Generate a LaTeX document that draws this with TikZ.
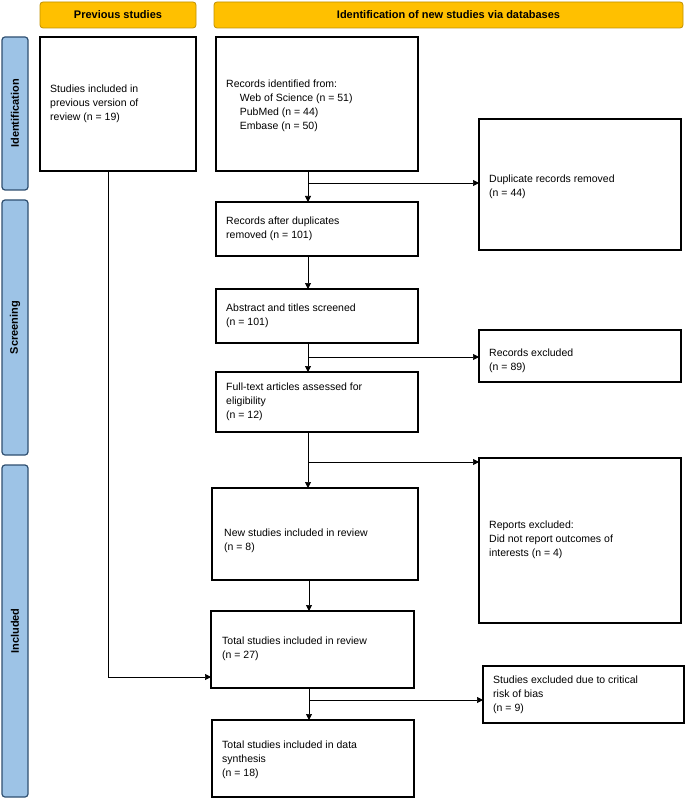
\documentclass[tikz,border=0pt]{standalone}
\usepackage{fontspec}
\setmainfont{Liberation Sans}
\usetikzlibrary{arrows.meta}
\definecolor{hdr}{HTML}{FFC000}
\definecolor{hdrb}{HTML}{C09000}
\definecolor{side}{HTML}{9DC3E6}
\definecolor{sideb}{HTML}{2F4F70}
\begin{document}
\begin{tikzpicture}[x=1pt,y=-1pt,
  box/.style={draw,line width=1.2pt,inner sep=0pt},
  txt/.style={anchor=west,align=left,font=\fontsize{10.5}{14}\selectfont,inner sep=0pt},
  hd/.style={draw=hdrb,fill=hdr,rounded corners=3pt,line width=0.8pt},
  sd/.style={draw=sideb,fill=side,rounded corners=3pt,line width=1.2pt},
  hf/.style={font=\bfseries\fontsize{11}{12}\selectfont},
  arr/.style={-{Triangle[length=6pt,width=6pt]},line width=0.7pt}]
\useasboundingbox (0,0) rectangle (685,799);
% headers
\draw[hd] (40,2) rectangle node[hf] (h1) {Previous studies} (196,28);
\draw[hd] (214,2) rectangle node[hf] (h2) {Identification of new studies via databases} (683,28);
% side bars
\draw[sd] (2,37) rectangle node[rotate=90,hf] (s1) {Identification} (28,190);
\draw[sd] (2,200) rectangle node[rotate=90,hf] (s2) {Screening} (28,455);
\draw[sd] (2,465) rectangle node[rotate=90,hf] (s3) {Included} (28,797);
% boxes
\draw[box] (40,37) rectangle (196,171); \node[txt] (tprev) at (50,104) {Studies included in\\previous version of\\review (n = 19)};
\coordinate (prev) at (108,171);
\draw[box] (216,37) rectangle (418,171); \node[txt] (trec) at (226,106) {Records identified from:\\\hspace{1.3em}Web of Science (n = 51)\\\hspace{1.3em}PubMed (n = 44)\\\hspace{1.3em}Embase (n = 50)};
\draw[box] (479,119) rectangle (681,250); \node[txt] (tdup) at (489,187) {Duplicate records removed\\(n = 44)};
\draw[box] (216,202) rectangle (418,256); \node[txt] (tafter) at (226,229) {Records after duplicates\\removed (n = 101)};
\draw[box] (216,289) rectangle (418,343); \node[txt] (tabs) at (226,316) {Abstract and titles screened\\(n = 101)};
\draw[box] (479,330) rectangle (681,382); \node[txt] (texc) at (489,361) {Records excluded\\(n = 89)};
\draw[box] (216,372) rectangle (418,432); \node[txt] (tfull) at (226,402) {Full-text articles assessed for\\eligibility\\(n = 12)};
\draw[box] (479,458) rectangle (681,623); \node[txt] (trep) at (489,540) {Reports excluded:\\Did not report outcomes of\\interests (n = 4)};
\draw[box] (212,488) rectangle (418,580); \node[txt] (tnew) at (224,541) {New studies included in review\\(n = 8)};
\draw[box] (211,611) rectangle (414,688); \node[txt] (ttot) at (222,649) {Total studies included in review\\(n = 27)};
\draw[box] (483,666) rectangle (684,723); \node[txt] (tbias) at (493,695) {Studies excluded due to critical\\risk of bias\\(n = 9)};
\draw[box] (212,720) rectangle (414,797); \node[txt] (tsyn) at (222,760) {Total studies included in data\\synthesis\\(n = 18)};
% connectors
\draw[arr] (308,171) coordinate (a1) -- (308,202) coordinate (a1e);
\draw[arr] (308,183) coordinate (b1) -- (479,183) coordinate (b1e);
\draw[arr] (308,256) coordinate (a2) -- (308,289) coordinate (a2e);
\draw[arr] (308,343) coordinate (a3) -- (308,372) coordinate (a3e);
\draw[arr] (308,357) coordinate (b3) -- (479,357) coordinate (b3e);
\draw[arr] (308,432) coordinate (a4) -- (308,488) coordinate (a4e);
\draw[arr] (308,462) coordinate (b4) -- (479,462) coordinate (b4e);
\draw[arr] (309,580) coordinate (a5) -- (309,611) coordinate (a5e);
\draw[arr] (prev) |- (211,677) coordinate (pe);
\draw[arr] (309,688) coordinate (a6) -- (309,720) coordinate (a6e);
\draw[arr] (309,700) coordinate (b6) -- (483,700) coordinate (b6e);
\end{tikzpicture}
\end{document}
